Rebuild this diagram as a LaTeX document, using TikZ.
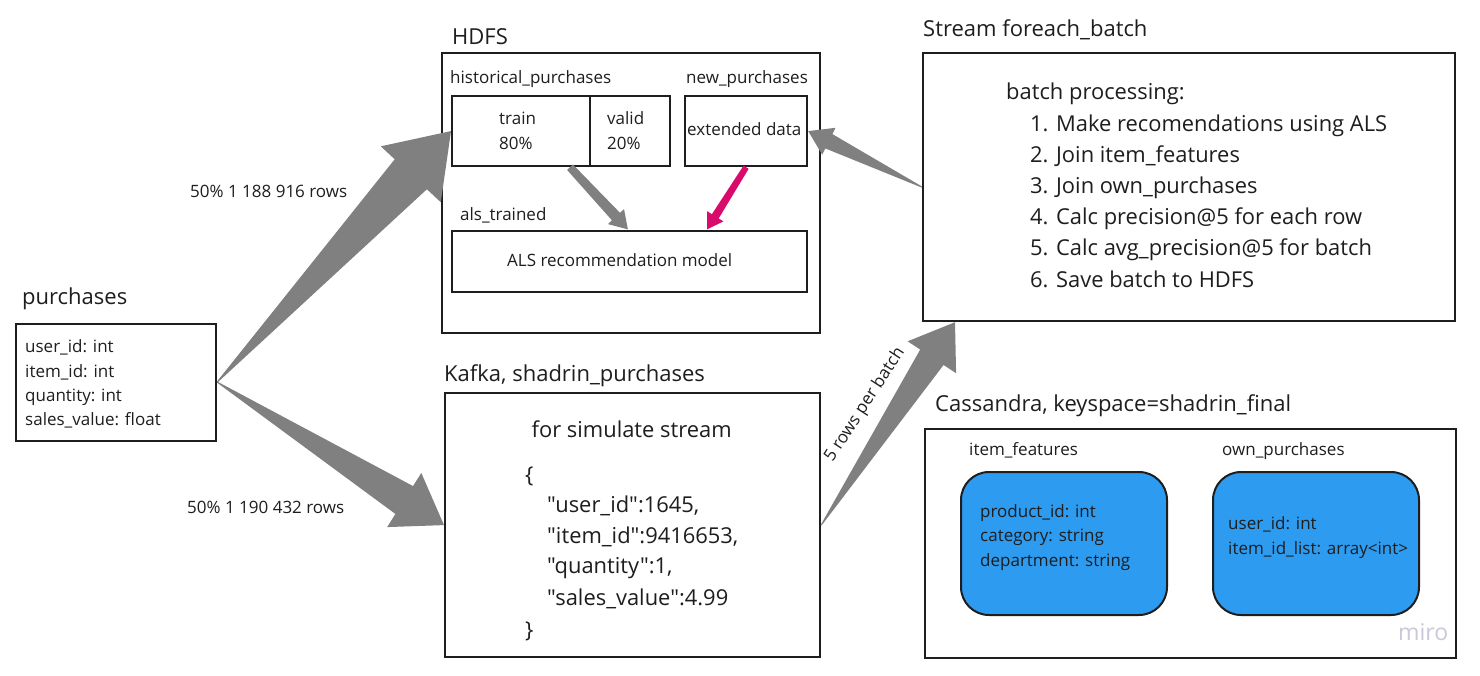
\documentclass[tikz,border=0pt]{standalone}
\usepackage{fontspec}
\setmainfont{Open Sans}
\newfontfamily\jsonfont{Open Sans}[Ligatures=ResetAll]
\usetikzlibrary{calc}
\definecolor{linec}{HTML}{1E1E1E}
\definecolor{arrg}{HTML}{808080}
\definecolor{mag}{HTML}{D80A6B}
\definecolor{blu}{HTML}{2D9BF0}
\definecolor{miroc}{HTML}{C8C8DA}
\newcommand\fsz[1]{\fontsize{#1}{#1}\selectfont}
\pgfdeclarelayer{bg}
\pgfsetlayers{bg,main}
% tapered arrow: tail, tip, tail half width, shaft half width, head half width, head length, colour
\newcommand\taper[7]{%
  \path let \p1=(#1), \p2=(#2), \n1={atan2(\y2-\y1,\x2-\x1)}, \n2={veclen(\x2-\x1,\y2-\y1)} in
    \pgfextra{\xdef\tpang{\n1}\xdef\tplen{\n2}};
  \fill[#7, shift={(#1)}, rotate=\tpang]
    (0pt,#3pt) -- ({\tplen-#6pt},#4pt) -- ({\tplen-#6pt},#5pt) -- ({\tplen+0pt},0pt)
    -- ({\tplen-#6pt},-#5pt) -- ({\tplen-#6pt},-#4pt) -- (0pt,-#3pt) -- cycle;
}
\tikzset{
  box/.style={draw=linec, line width=2.2pt, rectangle, inner sep=0pt, anchor=north west},
  bluebox/.style={draw=linec, line width=2pt, fill=blu, rounded corners=28pt, inner sep=0pt, anchor=north west},
  ttl/.style={anchor=base west, inner sep=0pt, font=\fsz{22}, text=linec},
  lbl/.style={anchor=base west, inner sep=0pt, font=\fsz{17}, text=linec},
  big/.style={anchor=base west, inner sep=0pt, font=\fsz{21.9}, text=linec},
  json/.style={big, font=\fsz{21.9}\jsonfont},
}
\begin{document}
\begin{tikzpicture}[x=1pt,y=-1pt]
\useasboundingbox (0,0) rectangle (1480,675);
\fill[white] (0,0) rectangle (1480,675);

% ---------- purchases
\node[ttl] (tpurch) at (22,304) {purchases};
\node[box, minimum width=200pt, minimum height=117pt] (purch) at (15,322.5) {};
\node[lbl] (p1) at (25,352) {user\_id: int};
\node[lbl] (p2) at (25,377) {item\_id: int};
\node[lbl] (p3) at (25,401) {quantity: int};
\node[lbl] (p4) at (25,425) {sales\_value: float};
\node[lbl] (r1) at (190,197) {50\% 1 188 916 rows};
\node[lbl] (r2) at (187,513) {50\% 1 190 432 rows};

% ---------- HDFS
\node[ttl] (thdfs) at (452,44) {HDFS};
\node[box, minimum width=378pt, minimum height=280pt] (hdfs) at (441,52) {};
\node[lbl] (thist) at (450,83) {historical\_purchases};
\node[lbl] (tnew) at (686,83) {new\_purchases};
\node[box, minimum width=138pt, minimum height=70pt] (train) at (451,95) {};
\node[box, minimum width=80pt, minimum height=70pt] (valid) at (589,95) {};
\node[box, minimum width=122pt, minimum height=70pt] (ext) at (684,95) {};
\node[lbl] (tt1) at (499,124) {train};
\node[lbl] (tt2) at (499,149) {80\%};
\node[lbl] (tv1) at (607,124) {valid};
\node[lbl] (tv2) at (607,149) {20\%};
\node[lbl] (text) at (687,135) {extended data};
\node[lbl] (tals) at (460,220) {als\_trained};
\node[box, minimum width=355pt, minimum height=61pt] (als) at (451,229.5) {};
\node[lbl] (talsm) at (507,266) {ALS recommendation model};

% ---------- Kafka
\node[ttl] (tkafka) at (444,381.5) {Kafka, shadrin\_purchases};
\node[box, minimum width=375pt, minimum height=264pt] (kafka) at (444,392) {};
\node[big] (k0) at (531.5,437) {for simulate stream};
\node[json] (k1) at (525,482) {\{};
\node[json] (k2) at (547,512) {"user\_id":1645,};
\node[json] (k3) at (547,543) {"item\_id":9416653,};
\node[json] (k4) at (547,573) {"quantity":1,};
\node[json] (k5) at (547,605) {"sales\_value":4.99};
\node[json] (k6) at (525,637) {\}};

% ---------- Stream
\node[ttl] (tstream) at (923,36) {Stream foreach\_batch};
\node[box, minimum width=532pt, minimum height=268pt] (stream) at (922,52) {};
\node[big] (s0) at (1006,99) {batch processing:};
\node[big] (s1) at (1030,131) {1. Make recomendations using ALS};
\node[big] (s2) at (1030,162) {2. Join item\_features};
\node[big] (s3) at (1030,193) {3. Join own\_purchases};
\node[big] (s4) at (1030,224) {4. Calc precision@5 for each row};
\node[big] (s5) at (1030,255) {5. Calc avg\_precision@5 for batch};
\node[big] (s6) at (1030,287) {6. Save batch to HDFS};

% ---------- Cassandra
\node[ttl] (tcass) at (935,411) {Cassandra, keyspace=shadrin\_final};
\node[box, minimum width=531pt, minimum height=229pt] (cass) at (924,428) {};
\node[lbl] (tif) at (969,455) {item\_features};
\node[lbl] (top) at (1222,455) {own\_purchases};
\node[bluebox, minimum width=206pt, minimum height=143pt] (blue1) at (960,471) {};
\node[bluebox, minimum width=206pt, minimum height=143pt] (blue2) at (1212,471) {};
\node[lbl] (b11) at (980,517) {product\_id: int};
\node[lbl] (b12) at (980,541) {category: string};
\node[lbl] (b13) at (980,566) {department: string};
\node[lbl] (b21) at (1228,529) {user\_id: int};
\node[lbl] (b22) at (1228,554) {item\_id\_list: array<int>};
\node[anchor=base west, inner sep=0pt, font=\fsz{23}, text=miroc] (miro) at (1398,640) {miro};

% ---------- connectors
\coordinate (s3tip) at ([xshift=33pt]stream.south west);
\coordinate (t5) at (blue1.north |- stream.south);
\coordinate (t6) at (blue2.north |- stream.south);
\coordinate (g1) at ([xshift=119pt]train.south west);
\coordinate (g2) at ([xshift=177pt]als.north west);
\coordinate (m2) at ([xshift=256pt]als.north west);

\begin{pgfonlayer}{bg}
\taper{blue1.north}{t5}{2.5}{9}{18}{25}{arrg}
\taper{blue2.north}{t6}{2.5}{9}{18}{25}{arrg}
\end{pgfonlayer}
\taper{purch.east}{train.west}{0.5}{22}{41}{59}{arrg}
\taper{purch.east}{kafka.west}{0.5}{16.5}{32}{47}{arrg}
\taper{kafka.east}{s3tip}{0.5}{14}{29}{42}{arrg}
\taper{stream.west}{ext.east}{0.5}{8}{15}{23}{arrg}
\taper{g1}{g2}{4}{5.5}{11}{17.5}{arrg}
\taper{ext.south}{m2}{3}{4}{9.5}{15.5}{mag}
\node[anchor=center, inner sep=0pt, font=\fsz{17}, text=linec, rotate=57] (rpb) at (865,405) {5 rows per batch};
\end{tikzpicture}
\end{document}
